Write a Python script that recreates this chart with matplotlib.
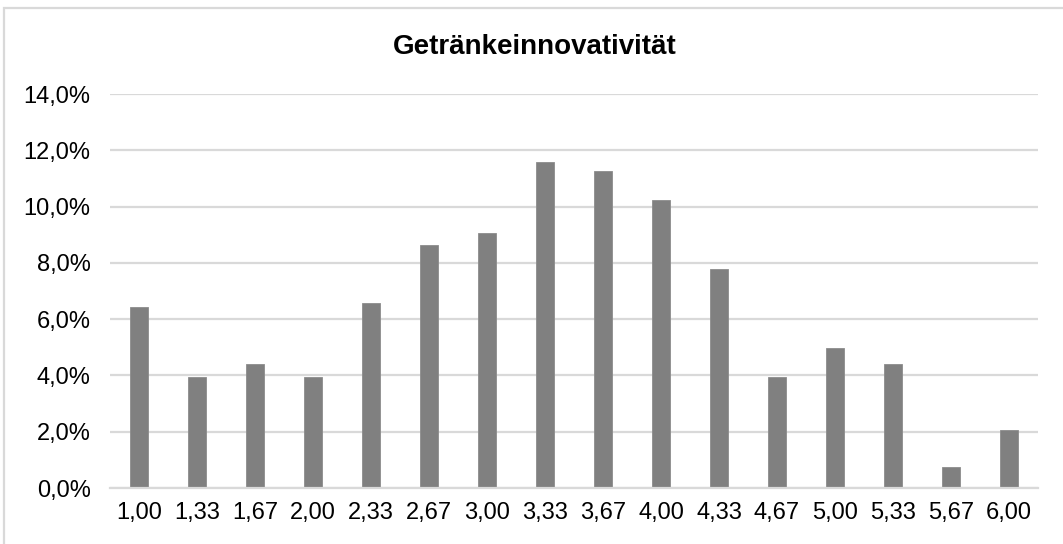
import matplotlib
matplotlib.use("Agg")
import matplotlib.pyplot as plt
from matplotlib.patches import Rectangle
from matplotlib.ticker import FuncFormatter

categories = ["1,00", "1,33", "1,67", "2,00", "2,33", "2,67", "3,00", "3,33",
              "3,67", "4,00", "4,33", "4,67", "5,00", "5,33", "5,67", "6,00"]
shares = [6.43, 3.94, 4.40, 3.94, 6.59, 8.65, 9.06, 11.58,
          11.28, 10.25, 7.77, 3.94, 4.98, 4.41, 0.73, 2.06]
title = "Getränkeinnovativität"
y_ticks = [0, 2, 4, 6, 8, 10, 12, 14]

plt.rcParams["font.family"] = ["Liberation Sans", "DejaVu Sans"]

W, H = 1063, 544
fig = plt.figure(figsize=(W / 100, H / 100), dpi=100)
fig.patch.set_facecolor("white")

# light frame around the chart area
fig.patches.append(Rectangle((3.5 / W, -0.1), 1.2, (H - 8.5) / H + 0.1,
                             transform=fig.transFigure, fill=False,
                             edgecolor="#d9d9d9", linewidth=1.6))

left, right, top, bottom = 110, 1038, 94, 488
ax = fig.add_axes([left / W, (H - bottom) / H, (right - left) / W, (bottom - top) / H])

x = range(len(categories))
ax.bar(x, shares, width=0.315, color="#808080", edgecolor="#8c8c8c",
       linewidth=0.6, zorder=3)

ax.set_xlim(-0.5, len(categories) - 0.5)
ax.set_ylim(0, 14)
ax.set_yticks(y_ticks)
ax.yaxis.set_major_formatter(FuncFormatter(lambda v, _: f"{v:.1f}%".replace(".", ",")))
ax.set_xticks(list(x))
ax.set_xticklabels(categories)

ax.grid(axis="y", color="#d9d9d9", linewidth=1.6, zorder=0)
ax.grid(axis="x", visible=False)
for side in ["top", "right", "left"]:
    ax.spines[side].set_visible(False)
ax.spines["bottom"].set_color("#d9d9d9")
ax.spines["bottom"].set_linewidth(1.6)
ax.spines["bottom"].set_zorder(4)

ax.tick_params(axis="both", length=0, labelsize=17, labelcolor="#000000")
ax.tick_params(axis="y", pad=14)
ax.tick_params(axis="x", pad=10)

fig.text(535 / W, 1 - 47 / H, title, ha="center", va="center",
         fontsize=20, fontweight="bold", color="#000000")

fig.savefig("out.png", dpi=100, facecolor="white")
